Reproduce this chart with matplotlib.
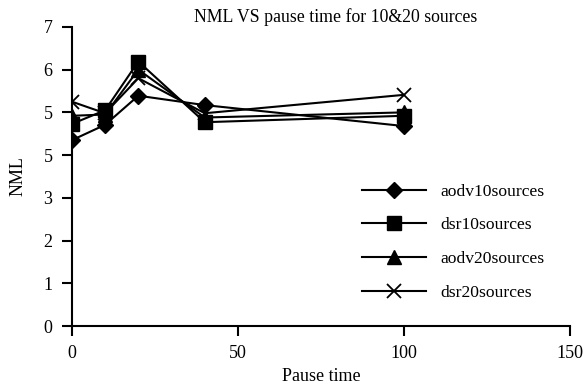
from matplotlib import pyplot as plt

pause_time = [0, 10, 20, 40, 100]
aodv10 = [4.35, 4.71, 5.39, 5.17, 4.68]
dsr10 = [4.73, 5.05, 6.19, 4.77, 4.92]
aodv20 = [4.92, 4.95, 6.0, 4.88, 5.0]
dsr20 = [5.25, 4.98, 5.8, 4.98, 5.41]

y_ticks = [0, 1, 2, 3, 4, 5, 6, 7]
y_tick_labels = ['0', '1', '2', '3', '5', '5', '6', '7']
x_ticks = [0, 50, 100, 150]

plt.rcParams['font.family'] = ['Liberation Serif', 'DejaVu Serif']

fig = plt.figure(figsize=(5.85, 3.9), dpi=100)
ax = fig.add_axes([0.123, 0.164, 0.851, 0.767])

lw = 1.5
ax.plot(pause_time, aodv10, color='black', lw=lw, marker='D', ms=8, label='aodv10sources')
ax.plot(pause_time, dsr10, color='black', lw=lw, marker='s', ms=9.5, label='dsr10sources')
ax.plot(pause_time, aodv20, color='black', lw=lw, marker='^', ms=10, label='aodv20sources')
ax.plot(pause_time, dsr20, color='black', lw=lw, marker='x', ms=10, mew=1.3, label='dsr20sources')

ax.set_xlim(0, 150)
ax.set_ylim(0, 7)
ax.set_xticks(x_ticks)
ax.set_yticks(y_ticks)
ax.set_yticklabels(y_tick_labels)
ax.spines['top'].set_visible(False)
ax.spines['right'].set_visible(False)
for s in ('left', 'bottom'):
    ax.spines[s].set_linewidth(1.5)
ax.tick_params(direction='out', length=7, width=1.5, labelsize=13, pad=7)

ax.set_xlabel('Pause time', fontsize=13, labelpad=4)
ax.set_ylabel('NML', fontsize=13, labelpad=12)
fig.text(0.573, 0.957, 'NML VS pause time for 10&20 sources', ha='center', va='center', fontsize=12.8)

ax.legend(loc='upper left', bbox_to_anchor=(0.568, 0.50), frameon=False, fontsize=12.6,
          handlelength=3.7, labelspacing=1.0, handletextpad=0.8, borderaxespad=0)

fig.savefig('out.png')
